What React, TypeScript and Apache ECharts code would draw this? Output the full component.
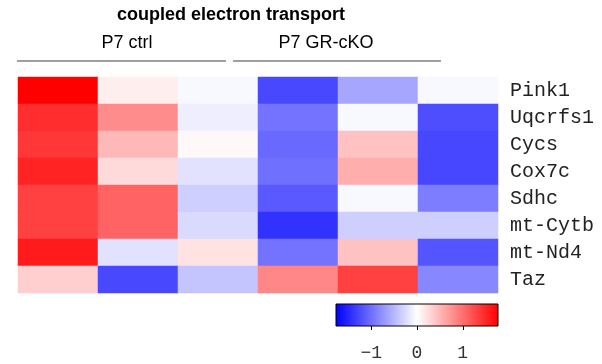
import React, { useEffect, useRef } from "react";
import * as echarts from "echarts";

const genes = ["Pink1", "Uqcrfs1", "Cycs", "Cox7c", "Sdhc", "mt-Cytb", "mt-Nd4", "Taz"];
const samples = ["ctrl1", "ctrl2", "ctrl3", "cko1", "cko2", "cko3"];
const groups = ["P7 ctrl", "P7 GR-cKO"];
// z-scores per gene (rows) across samples (columns)
const pink1 = [1.77, 0.12, -0.05, -1.27, -0.62, -0.05];
const uqcrfs1 = [1.46, 0.8, -0.12, -0.97, -0.05, -1.23];
const cycs = [1.39, 0.49, 0.05, -1.04, 0.42, -1.28];
const cox7c = [1.53, 0.26, -0.2, -0.99, 0.56, -1.28];
const sdhc = [1.32, 1.08, -0.34, -1.15, -0.05, -0.9];
const mtCytb = [1.32, 1.08, -0.26, -1.42, -0.34, -0.34];
const mtNd4 = [1.58, -0.2, 0.2, -0.97, 0.42, -1.18];
const taz = [0.33, -1.27, -0.41, 0.83, 1.32, -0.83];
const rows = [pink1, uqcrfs1, cycs, cox7c, sdhc, mtCytb, mtNd4, taz];
const scaleMin = -1.77;
const scaleMax = 1.77;
const legendTicks = [-1, 0, 1];

export default function App() {
  const ref = useRef<HTMLDivElement>(null);
  useEffect(() => {
    if (!ref.current) return;
    const chart = echarts.init(ref.current, null, { renderer: "svg" });
    const data: number[][] = [];
    rows.forEach((r, ri) => r.forEach((v, ci) => data.push([ci, ri, v])));
    const sans = "'Liberation Sans', Arial, sans-serif";
    chart.setOption({
      animation: false,
      grid: [
        { left: 18, top: 77, width: 480, height: 216 },
        { left: 336, top: 304, width: 162, height: 22 },
      ],
      xAxis: [
        { type: "category", data: samples, gridIndex: 0, show: false },
        {
          type: "value",
          gridIndex: 1,
          min: scaleMin,
          max: scaleMax,
          axisLine: { show: false },
          splitLine: { show: false },
          axisTick: { show: true, length: 4, lineStyle: { color: "#000", width: 1 }, customValues: legendTicks },
          axisLabel: {
            customValues: legendTicks,
            margin: 18,
            fontFamily: "Liberation Mono",
            fontSize: 18,
            color: "#333",
            formatter: (v: number) => String(v).replace("-", "\u2212"),
          },
        },
      ],
      yAxis: [
        {
          type: "category",
          data: genes,
          gridIndex: 0,
          inverse: true,
          position: "right",
          axisLine: { show: false },
          axisTick: { show: false },
          axisLabel: { margin: 12, fontFamily: "Liberation Mono", fontSize: 20, color: "#222" },
        },
        { type: "value", gridIndex: 1, show: false, min: 0, max: 1 },
      ],
      visualMap: {
        type: "continuous",
        min: scaleMin,
        max: scaleMax,
        show: false,
        seriesIndex: 0,
        inRange: { color: ["#0000ff", "#ffffff", "#ff0000"] },
      },
      series: [
        {
          type: "heatmap",
          xAxisIndex: 0,
          yAxisIndex: 0,
          data,
          itemStyle: { borderWidth: 0 },
          emphasis: { disabled: true },
        },
      ],
      graphic: [
        {
          type: "text",
          x: 231,
          y: 14,
          style: {
            text: "coupled electron transport",
            fontSize: 18,
            fontWeight: "bold",
            fontFamily: sans,
            fill: "#000",
            align: "center",
            verticalAlign: "middle",
          },
        },
        {
          type: "text",
          x: 127,
          y: 42,
          style: { text: groups[0], fontSize: 18, fontFamily: sans, fill: "#000", align: "center", verticalAlign: "middle" },
        },
        {
          type: "text",
          x: 326,
          y: 42,
          style: { text: groups[1], fontSize: 18, fontFamily: sans, fill: "#000", align: "center", verticalAlign: "middle" },
        },
        { type: "line", shape: { x1: 17, y1: 61, x2: 226, y2: 61 }, style: { stroke: "#7f7f7f", lineWidth: 1.5 } },
        { type: "line", shape: { x1: 233, y1: 61, x2: 441, y2: 61 }, style: { stroke: "#7f7f7f", lineWidth: 1.5 } },
        {
          type: "rect",
          shape: { x: 336, y: 304, width: 162, height: 22 },
          style: {
            fill: new echarts.graphic.LinearGradient(0, 0, 1, 0, [
              { offset: 0, color: "#0000ff" },
              { offset: 0.5, color: "#ffffff" },
              { offset: 1, color: "#ff0000" },
            ]),
            stroke: "#000",
            lineWidth: 1,
          },
        },
      ],
    });
    return () => chart.dispose();
  }, []);
  return <div ref={ref} style={{ position: "fixed", left: 0, top: 0, width: 602, height: 364 }} />;
}
